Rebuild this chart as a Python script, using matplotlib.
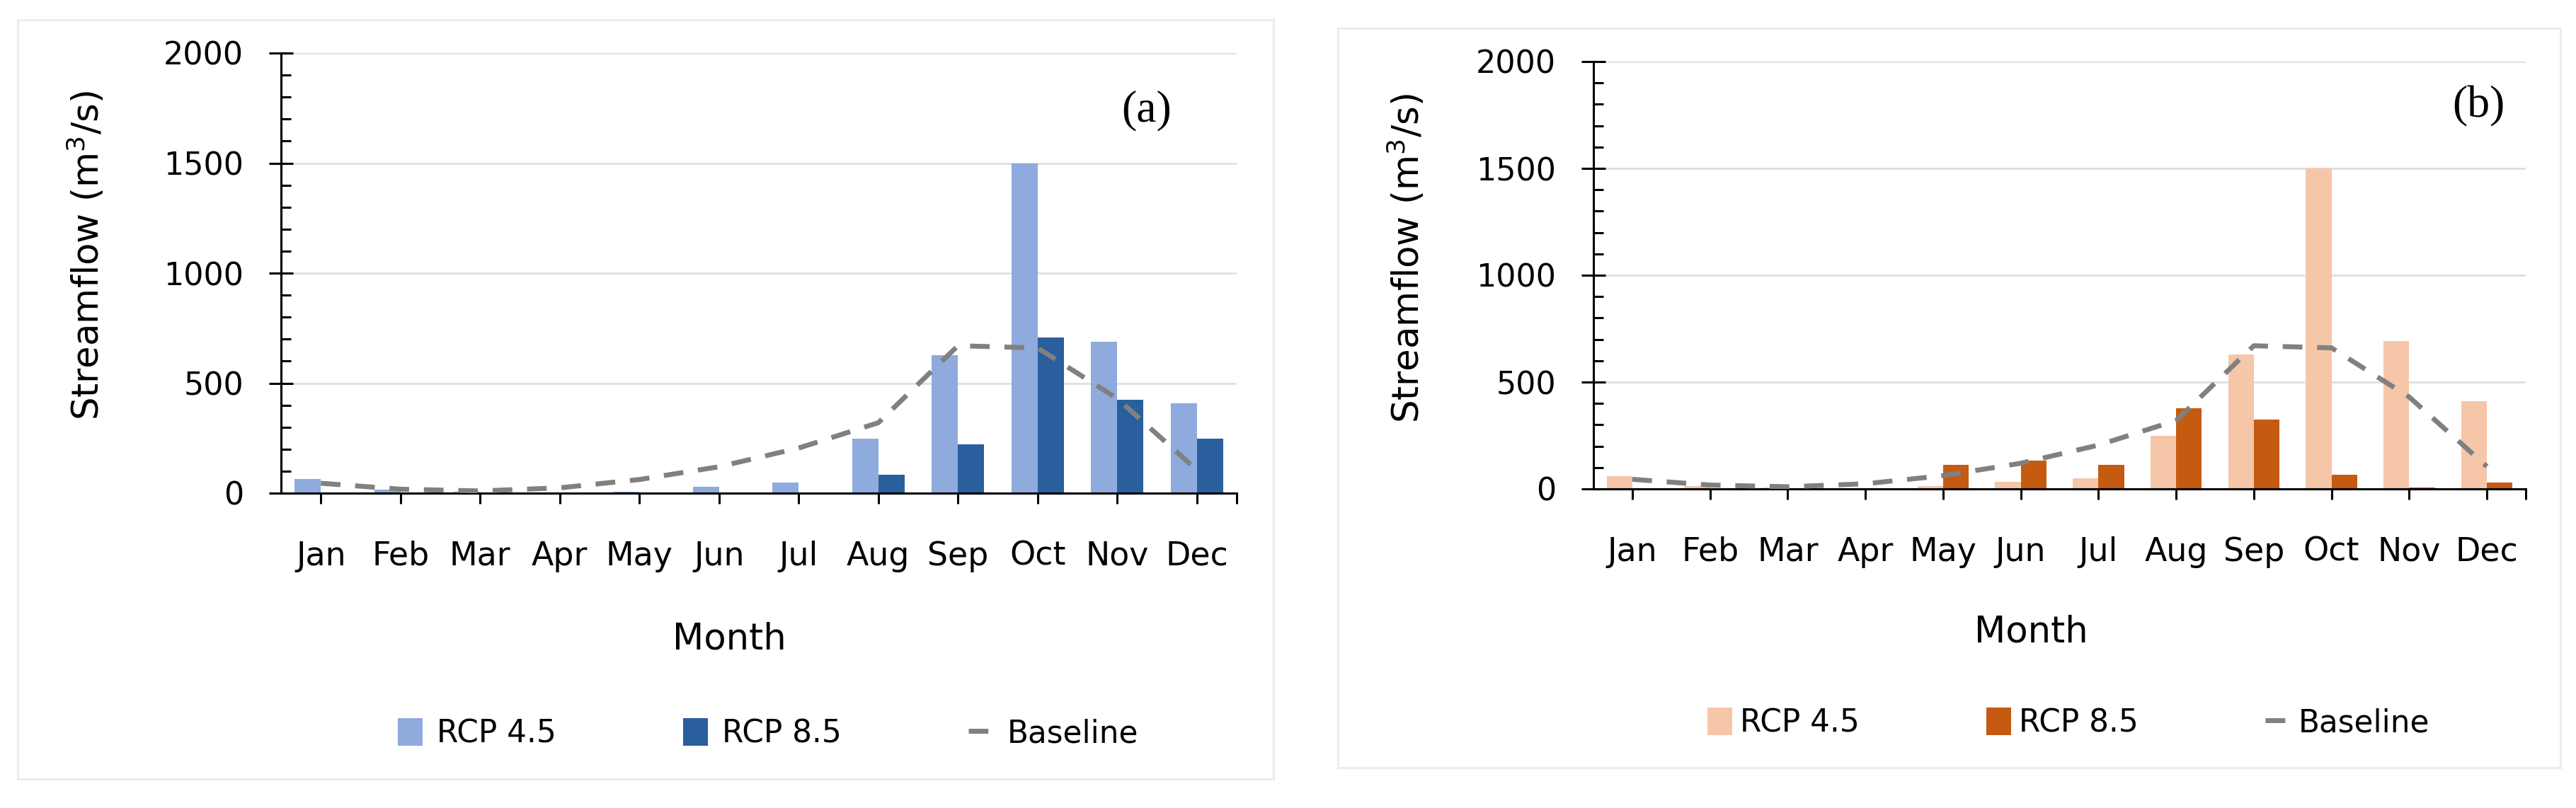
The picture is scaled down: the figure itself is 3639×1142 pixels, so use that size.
import matplotlib
matplotlib.use("Agg")
import matplotlib.pyplot as plt
import numpy as np
from matplotlib.patches import Rectangle, Patch
from matplotlib.lines import Line2D
from matplotlib.ticker import MultipleLocator

months = ['Jan', 'Feb', 'Mar', 'Apr', 'May', 'Jun', 'Jul', 'Aug', 'Sep', 'Oct', 'Nov', 'Dec']
baseline = [45, 18, 10, 24, 62, 120, 205, 320, 670, 660, 430, 105]
a_rcp45 = [65, 15, 6, 3, 8, 30, 48, 249, 626, 1500, 688, 408]
a_rcp85 = [0, 0, 0, 0, 0, 0, 0, 82, 223, 706, 423, 249]
b_rcp45 = [58, 12, 5, 3, 13, 32, 51, 248, 628, 1500, 691, 411]
b_rcp85 = [0, 0, 0, 0, 112, 131, 112, 377, 324, 65, 8, 30]
y_ticks = [0, 500, 1000, 1500, 2000]
legend_labels = ['RCP 4.5', 'RCP 8.5', 'Baseline']

W, H = 3639, 1142
DPI = 100
fig = plt.figure(figsize=(W / DPI, H / DPI), dpi=DPI)
plt.rcParams['font.family'] = ['DejaVu Sans']

def px(x0, y0, x1, y1):
    return [x0 / W, 1 - y1 / H, (x1 - x0) / W, (y1 - y0) / H]

# panel borders
for (x0, y0, x1, y1) in [(25, 28, 1799, 1101), (1890, 40, 3617, 1085)]:
    fig.add_artist(Rectangle((x0 / W, 1 - y1 / H), (x1 - x0) / W, (y1 - y0) / H,
                             transform=fig.transFigure, facecolor='none',
                             edgecolor='#ececec', lw=2.2))

BW = 0.33
BASE_COLOR = '#808080'

def draw(ax, r45, r85, c45, c85, letter, label_xy, ylabel_xy, month_xy, leg_xy, htp):
    x = np.arange(len(months))
    ax.bar(x - BW / 2, r45, BW, color=c45, zorder=2)
    ax.bar(x + BW / 2, r85, BW, color=c85, zorder=2)
    ax.plot(x, baseline, color=BASE_COLOR, lw=5, ls=(0, (4, 3)),
            dash_capstyle='butt', zorder=3)
    ax.set_xlim(-0.5, len(months) - 0.5)
    ax.set_ylim(0, 2000)
    ax.set_yticks(y_ticks)
    ax.yaxis.set_minor_locator(MultipleLocator(100))
    ax.set_xticks(list(x) + [len(months) - 0.5])
    ax.set_xticklabels(months + [''])
    for s in ['top', 'right']:
        ax.spines[s].set_visible(False)
    for s in ['left', 'bottom']:
        ax.spines[s].set_linewidth(2.2)
        ax.spines[s].set_color('black')
    ax.grid(axis='y', which='major', color='#dcdcdc', lw=1.8, zorder=0)
    ax.set_axisbelow(True)
    ax.tick_params(axis='y', which='major', direction='inout', length=24,
                   width=2.2, labelsize=32, pad=26)
    ax.tick_params(axis='y', which='minor', direction='in', length=10, width=2.2)
    ax.tick_params(axis='x', which='major', direction='out', length=11,
                   width=2.2, labelsize=33, pad=37)
    ax.tick_params(axis='x', which='minor', bottom=False)
    fig.text(label_xy[0] / W, 1 - label_xy[1] / H, letter, fontsize=46,
             family=['Liberation Serif'], ha='center', va='center')
    fig.text(ylabel_xy[0] / W, 1 - ylabel_xy[1] / H, r'Streamflow (m$^{3}$/s)',
             fontsize=37, rotation=90, ha='center', va='center')
    fig.text(month_xy[0] / W, 1 - month_xy[1] / H, 'Month', fontsize=37,
             ha='center', va='center')
    handles = [Patch(facecolor=c45, edgecolor='none'),
               Patch(facecolor=c85, edgecolor='none'),
               Line2D([], [], color=BASE_COLOR, lw=5, ls=(0, (4, 3)),
                      dash_capstyle='butt')]
    fig.legend(handles, legend_labels, loc='center', ncol=3, frameon=False,
               bbox_to_anchor=(leg_xy[0] / W, 1 - leg_xy[1] / H),
               fontsize=31.5, handlelength=0.8, handleheight=1.0,
               handletextpad=htp, columnspacing=4.1)

ax1 = fig.add_axes(px(397, 75, 1747, 697))
draw(ax1, a_rcp45, a_rcp85, '#8faadc', '#2a5f9e', '(a)', (1620, 156),
     (122, 361), (1030, 903), (1085, 1037), 0.45)

ax2 = fig.add_axes(px(2251, 87, 3568, 691))
draw(ax2, b_rcp45, b_rcp85, '#f6c6a8', '#c55a11', '(b)', (3501, 150),
     (1987, 365), (2869, 893), (2922, 1022), 0.25)

fig.savefig('out.png', dpi=DPI)
